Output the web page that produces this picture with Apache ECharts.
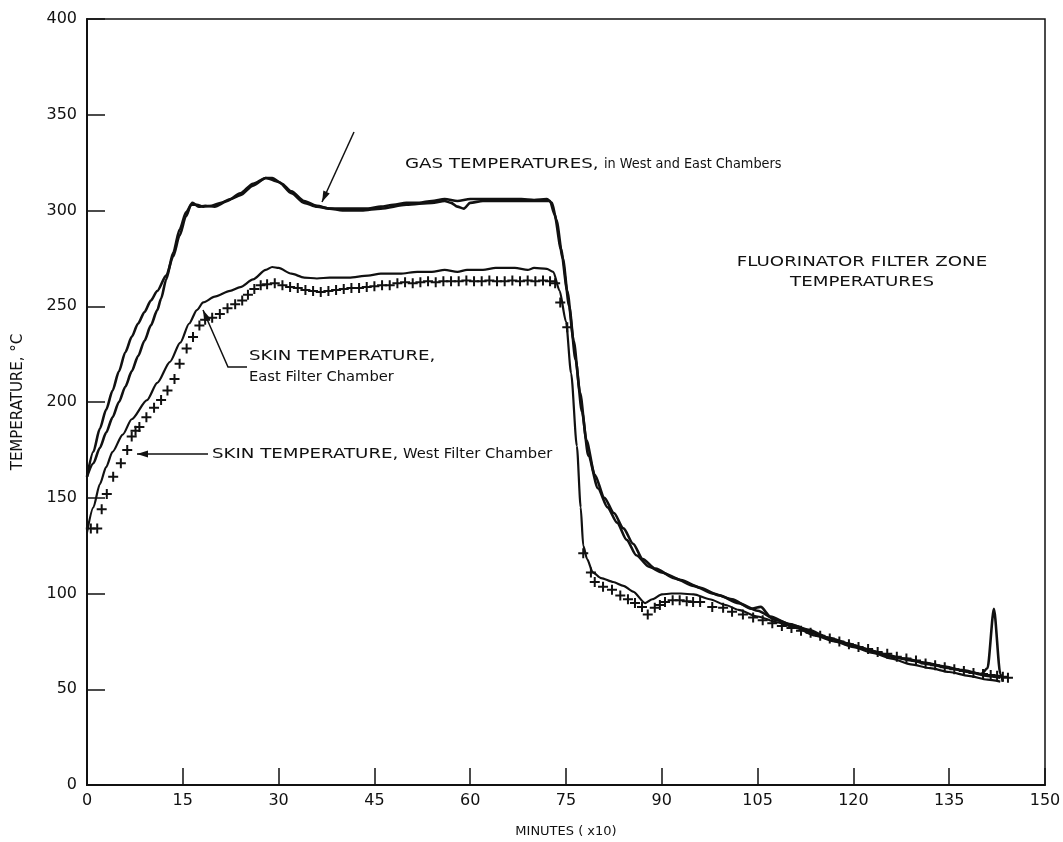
<!DOCTYPE html>
<html>
<head>
<meta charset="utf-8">
<script src="https://cdn.jsdelivr.net/npm/echarts@6.0.0/dist/echarts.min.js"></script>
<style>
  html, body { margin: 0; padding: 0; background: #fff; }
  #chart { width: 1063px; height: 842px; }
</style>
</head>
<body>
<div id="chart"></div>
<script>
// readings taken off the plot: [minutes x10, temperature °C]
const gasWest = [
  [0, 161], [1, 174], [2, 186], [3, 196], [4, 206], [5, 216], [6, 226], [7, 234], [8, 241],
  [9, 247], [10, 253], [11, 258], [12.4, 266], [13.5, 276], [14.5, 287], [15.5, 297], [16.3, 303],
  [17.2, 303], [18.2, 302], [19.5, 302.5], [21, 304], [22.5, 306], [24, 308], [26, 313], [28, 317],
  [29, 317], [30.5, 314], [32, 310], [34, 305], [36, 302.5], [38, 301], [40, 301], [42, 301],
  [44, 301], [46, 302], [48, 303], [50, 304], [52, 304], [54, 305], [56, 306], [58, 305],
  [60, 306], [62, 306], [64, 306], [66, 306], [68, 306], [70, 305.5], [72, 306], [72.8, 304],
  [73.5, 295], [74.5, 275], [75.5, 250], [76.5, 222], [77.5, 195], [78.5, 172], [80, 155],
  [81.5, 145], [83, 137], [84.5, 128], [86, 120], [88, 114], [90, 111], [93, 107], [96, 103],
  [99, 99], [102, 95], [105, 91], [108, 86], [111, 83], [114, 79], [117, 76], [120, 73],
  [123, 70], [126, 67], [129, 65], [132, 63], [135, 61], [138, 59], [141, 57], [143, 56]
];

const gasEast = [
  [0, 161], [1, 168], [2, 176], [3, 184], [4, 192], [5, 200], [6, 208], [7, 216], [8, 224],
  [9, 232], [10, 240], [11, 248], [11.6, 254], [12.4, 264], [13.5, 278], [14.5, 290], [15.5, 299],
  [16.5, 304], [17.5, 302], [18.5, 302.5], [20, 302], [22, 305], [24, 309], [26, 314], [28, 317],
  [30, 315], [32, 309], [34, 304], [36, 302], [38, 301], [40, 300], [43, 300], [46, 301],
  [50, 303], [54, 304], [56, 305], [57, 304], [58, 302], [59, 301], [60, 304], [62, 305],
  [65, 305], [68, 305], [70, 305], [72.5, 305], [73.2, 298], [74.2, 280], [75.2, 258],
  [76.2, 232], [77.2, 205], [78.2, 180], [79.5, 162], [81, 150], [82.5, 142], [84, 134],
  [85.5, 126], [87, 118], [89, 113], [92, 108], [95, 104], [98, 100], [101, 97], [104, 92],
  [105.5, 93], [107, 88], [110, 84], [113, 81], [116, 77], [119, 74], [122, 71], [125, 68],
  [128, 66], [131, 64], [134, 62], [137, 60], [140, 58], [141, 61], [142, 92], [143, 58],
  [143.4, 54]
];

const skinEast = [
  [0, 132], [1, 145], [2, 157], [3, 166], [4, 174], [5.6, 183], [7, 191], [9.4, 201], [11, 210],
  [13, 221], [14.6, 231], [16, 241], [17.2, 248], [18.2, 252], [20, 255], [22.4, 258], [24, 260],
  [26, 264], [28, 269], [29, 270.5], [30, 270], [32, 267], [34, 265], [36, 264.5], [38, 265],
  [41, 265], [44, 266], [46, 267], [49, 267], [51.7, 268], [54, 268], [56, 269], [58, 268],
  [59.5, 269], [62, 269], [64, 270], [67, 270], [69, 269], [70, 270], [72, 269.5], [73, 268],
  [74, 258], [75, 242], [75.8, 215], [76.7, 177], [77.3, 145], [77.7, 125], [78.3, 118],
  [79.2, 111], [80.5, 108], [82.4, 106], [84, 104], [85.5, 101], [87.4, 95], [88.5, 97],
  [90, 99.5], [91.5, 100], [93, 100], [95, 99.5], [97.5, 97], [100, 94], [102, 91.5], [105, 88],
  [108, 85], [111, 82], [114, 78], [117, 75], [120, 72], [123, 69], [126, 66], [129, 63],
  [132, 61], [135, 59], [138, 57], [141, 55], [143, 54]
];

const skinWest = [
  [0.6, 134], [1.6, 134], [2.3, 144], [3.1, 152], [4.1, 161], [5.3, 168], [6.3, 175], [7.0, 182],
  [7.6, 185], [8.2, 187], [9.3, 192], [10.5, 197], [11.6, 201], [12.6, 206], [13.7, 212],
  [14.5, 220], [15.6, 228], [16.6, 234], [17.6, 240], [18.5, 243], [19.6, 244], [20.8, 246],
  [22, 249], [23.2, 251], [24.3, 253], [25.2, 256], [26.2, 259], [27.2, 261], [28.2, 261.5],
  [29.4, 262], [30.6, 261], [31.8, 260], [33, 259.5], [34.2, 258.5], [35.4, 258], [36.6, 257.5],
  [37.8, 258], [39, 258.5], [40.2, 259], [41.4, 259.5], [42.6, 259.5], [43.8, 260], [45, 260.5],
  [46.2, 261], [47.4, 261], [48.6, 262], [49.8, 262.5], [51, 262], [52.2, 262.5], [53.4, 263],
  [54.6, 262.5], [55.8, 263], [57, 263], [58.2, 263], [59.4, 263.5], [60.6, 263], [61.8, 263],
  [63, 263.5], [64.2, 263], [65.4, 263], [66.6, 263.5], [67.8, 263], [69, 263.5], [70.2, 263],
  [71.4, 263.5], [72.5, 263], [73.3, 262], [74.1, 252], [75.2, 239], [77.7, 121], [78.9, 111],
  [79.5, 106], [80.8, 103.5], [82.2, 102], [83.5, 99], [84.7, 97], [85.8, 95], [86.9, 93],
  [87.8, 89], [88.9, 92.5], [89.7, 94], [90.5, 95.5], [91.7, 96.5], [92.8, 96.5], [93.9, 96],
  [94.9, 95.5], [96, 95.5], [97.9, 93], [99.6, 92.5], [101, 90.5], [102.7, 89], [104.3, 87.5],
  [105.8, 86], [107.3, 84.5], [108.8, 83], [110.3, 82], [111.8, 80.5], [113.3, 79.5], [114.8, 78],
  [116.3, 76.5], [117.8, 75], [119.3, 73.5], [120.8, 72], [122.3, 71], [123.8, 69.5], [125.3, 68.5],
  [126.8, 67], [128.3, 66], [129.8, 65], [131.3, 63.5], [132.8, 62.5], [134.3, 61.5], [135.8, 60.5],
  [137.3, 59.5], [138.8, 58.5], [140.3, 58], [141.5, 57.5], [142.5, 57], [143.4, 56.5], [144.2, 56]
];

const FONT = 'DejaVu Sans'
const INK = '#111'
// the lettering guide draws capitals wide
const CAPS_SX = 1.3

function arrowHead(x1, y1, x2, y2, len, half) {
  const dx = x2 - x1, dy = y2 - y1
  const d = Math.hypot(dx, dy)
  const ux = dx / d, uy = dy / d
  const bx = x2 - ux * len, by = y2 - uy * len
  return [[x2, y2], [bx - uy * half, by + ux * half], [bx + uy * half, by - ux * half]]
}

function label(x, y, text, sx, align) {
  return {
    type: 'text', x, y, scaleX: sx, silent: true,
    style: {
      text, fill: INK, font: '14px "' + FONT + '"',
      align: align || 'left', verticalAlign: 'middle'
    }
  }
}

function leader(points) {
  const n = points.length
  const a = points[n - 2], b = points[n - 1]
  return [
    { type: 'polyline', silent: true, shape: { points }, style: { stroke: INK, lineWidth: 1.5, fill: null } },
    { type: 'polygon', silent: true, shape: { points: arrowHead(a[0], a[1], b[0], b[1], 11, 3.5) }, style: { fill: INK } }
  ]
}

const lineSeries = (name, data, width) => ({
  name, type: 'line', data,
  showSymbol: false, symbol: 'none',
  smooth: 0.25, smoothMonotone: 'x',
  lineStyle: { color: INK, width },
  z: 3
})

const chart = echarts.init(document.getElementById('chart'))

chart.setOption({
  backgroundColor: '#fff',
  animation: false,
  grid: {
    left: 87, right: 18, top: 19, bottom: 57,
    outerBoundsMode: 'none', containLabel: false,
    show: true, borderColor: INK, borderWidth: 1.5
  },
  xAxis: {
    type: 'value', min: 0, max: 150, interval: 15,
    name: 'MINUTES ( x10)', nameLocation: 'middle', nameGap: 40,
    nameTextStyle: { color: INK, fontFamily: FONT, fontSize: 13 },
    axisLine: { lineStyle: { color: INK, width: 2 } },
    axisTick: { inside: true, length: 17, lineStyle: { color: INK, width: 1.5 } },
    axisLabel: { color: INK, fontFamily: FONT, fontSize: 16, margin: 8 },
    splitLine: { show: false }
  },
  yAxis: {
    type: 'value', min: 0, max: 400, interval: 50,
    name: 'TEMPERATURE, °C', nameLocation: 'middle', nameGap: 61, nameRotate: 90,
    nameTextStyle: { color: INK, fontFamily: FONT, fontSize: 15 },
    axisLine: { lineStyle: { color: INK, width: 2 } },
    axisTick: { inside: true, length: 18, lineStyle: { color: INK, width: 1.5 } },
    axisLabel: { color: INK, fontFamily: FONT, fontSize: 16, margin: 10 },
    splitLine: { show: false }
  },
  series: [
    lineSeries('Gas, West Chamber', gasWest, 2.6),
    lineSeries('Gas, East Chamber', gasEast, 2.6),
    lineSeries('Skin, East Filter Chamber', skinEast, 2.2),
    {
      name: 'Skin, West Filter Chamber', type: 'scatter', data: skinWest,
      symbol: 'path://M4,0H6V4H10V6H6V10H4V6H0V4H4Z', symbolSize: 10,
      itemStyle: { color: INK, opacity: 1 },
      z: 4
    }
  ],
  graphic: [
    label(405, 164, 'GAS TEMPERATURES,', CAPS_SX),
    label(604, 164, 'in West and East Chambers', 0.92),
    ...leader([[354, 132], [322, 202]]),
    label(249, 356, 'SKIN TEMPERATURE,', CAPS_SX),
    label(249, 377, 'East Filter Chamber', 1.05),
    ...leader([[247, 367], [228, 367], [203, 310]]),
    label(212, 454, 'SKIN TEMPERATURE,', CAPS_SX),
    label(403, 454, 'West Filter Chamber', 1.05),
    ...leader([[208, 454], [137, 454]]),
    label(862, 262, 'FLUORINATOR FILTER ZONE', CAPS_SX, 'center'),
    label(862, 282, 'TEMPERATURES', CAPS_SX, 'center')
  ]
})
</script>
</body>
</html>
